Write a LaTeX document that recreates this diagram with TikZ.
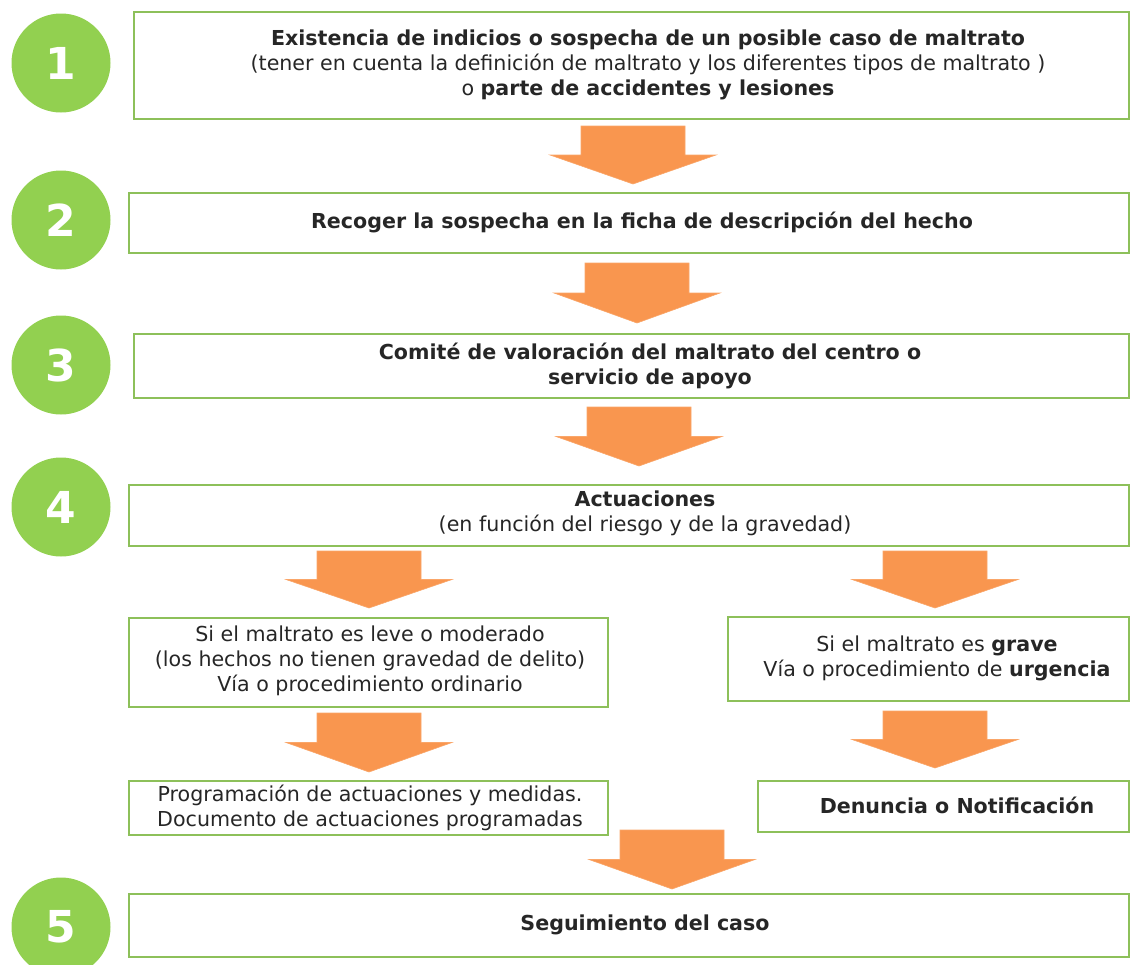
\documentclass[tikz,border=0pt]{standalone}
\usepackage{fontspec}
\setmainfont{DejaVu Sans}
\definecolor{boxgreen}{HTML}{8DC05A}
\definecolor{circgreen}{HTML}{92D050}
\definecolor{arrorange}{HTML}{F9964F}
\definecolor{textgray}{HTML}{262626}
\newcommand\blockarrow[3]{% cx, top, tip
  \path[arrowfill] (#1-52,#2) -- (#1+52,#2) -- (#1+52,{(#2+#3)/2}) -- (#1+83,{(#2+#3)/2}) -- (#1,#3) -- (#1-83,{(#2+#3)/2}) -- (#1-52,{(#2+#3)/2}) -- cycle;}
\begin{document}
\begin{tikzpicture}[x=1pt,y=-1pt,
  box/.style={draw=boxgreen, line width=1.5pt, rectangle, inner sep=0pt, anchor=north west},
  txt/.style={font=\fontsize{20.6}{25}\selectfont, text=textgray, align=center, inner sep=0pt},
  num/.style={circle, fill=circgreen, minimum size=99pt, inner sep=0pt, font=\fontsize{44}{44}\selectfont\bfseries, text=white},
  arrowfill/.style={fill=arrorange, draw=arrorange!85!white, line width=0.6pt}]
\useasboundingbox (0,0) rectangle (1134,964);
\clip (0,0) rectangle (1134,964);
% numbered circles
\node[num] (c1) at (61,63) {1};
\node[num] (c2) at (61,220) {2};
\node[num] (c3) at (61,365) {3};
\node[num] (c4) at (61,507) {4};
\node[num] (c5) at (61,927) {5};
% boxes
\node[box, minimum width=995pt, minimum height=107pt] (b1) at (133,11) {};
\node[box, minimum width=1000pt, minimum height=60pt] (b2) at (128,192) {};
\node[box, minimum width=995pt, minimum height=64pt] (b3) at (133,333) {};
\node[box, minimum width=1000pt, minimum height=61pt] (b4) at (128,484) {};
\node[box, minimum width=479pt, minimum height=89pt] (l1) at (128,617) {};
\node[box, minimum width=479pt, minimum height=54pt] (l2) at (128,780) {};
\node[box, minimum width=401pt, minimum height=84pt] (r1) at (727,616) {};
\node[box, minimum width=371pt, minimum height=51pt] (r2) at (757,780) {};
\node[box, minimum width=1000pt, minimum height=63pt] (b5) at (128,893) {};
% texts
\node[txt] (t1) at (648,65) {\textbf{Existencia de indicios o sospecha de un posible caso de maltrato}\\(tener en cuenta la definición de maltrato y los diferentes tipos de maltrato )\\o \textbf{parte de accidentes y lesiones}};
\node[txt] (t2) at (642,222) {\textbf{Recoger la sospecha en la ficha de descripción del hecho}};
\node[txt] (t3) at (650,366) {\textbf{Comité de valoración del maltrato del centro o}\\\textbf{servicio de apoyo}};
\node[txt] (t4) at (645,513) {\textbf{Actuaciones}\\(en función del riesgo y de la gravedad)};
\node[txt] (tl1) at (370,661) {Si el maltrato es leve o moderado\\(los hechos no tienen gravedad de delito)\\Vía o procedimiento ordinario};
\node[txt] (tl2) at (370,808) {Programación de actuaciones y medidas.\\Documento de actuaciones programadas};
\node[txt] (tr1) at (937,658) {Si el maltrato es \textbf{grave}\\Vía o procedimiento de \textbf{urgencia}};
\node[txt] (tr2) at (957,805) {\textbf{Denuncia o Notificación}};
\node[txt] (t5) at (645,925) {\textbf{Seguimiento del caso}};
% block arrows
\blockarrow{633}{126}{184}
\blockarrow{637}{263}{323}
\blockarrow{639}{407}{466}
\blockarrow{369}{551}{608}
\blockarrow{935}{551}{608}
\blockarrow{369}{713}{772}
\blockarrow{935}{711}{768}
\blockarrow{672}{830}{889}
\end{tikzpicture}
\end{document}
